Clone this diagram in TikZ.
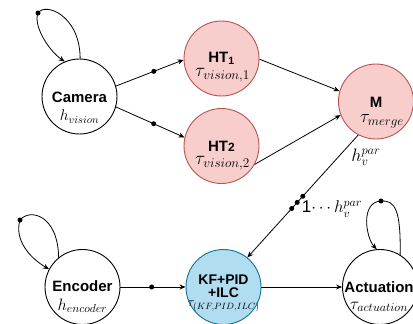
\RequirePackage{fix-cm}
\documentclass[tikz,border=0pt]{standalone}
\usepackage{fontspec}
\setmainfont{Liberation Sans}
\usetikzlibrary{arrows.meta,calc}
\definecolor{pinkf}{HTML}{F8CECC}
\definecolor{pinkd}{HTML}{B85450}
\definecolor{bluef}{HTML}{B1DDF0}
\definecolor{blued}{HTML}{10739E}
\newcommand{\fsz}[1]{\fontsize{#1}{#1}\selectfont}
\begin{document}
\begin{tikzpicture}[x=1pt,y=-1pt,
  st/.style={circle, draw=black, line width=0.9pt, minimum size=75pt, inner sep=0pt},
  pinkst/.style={st, draw=pinkd, fill=pinkf},
  bluest/.style={st, draw=blued, fill=bluef},
  ttl/.style={font=\fsz{15}\bfseries, inner sep=0pt},
  sub/.style={font=\fsz{15}, inner sep=0pt},
  lbl/.style={font=\fsz{17}, inner sep=0pt},
  dot/.style={circle, fill=black, inner sep=0pt, minimum size=5pt},
  arr/.style={-{Stealth[length=6pt,width=5pt]}, line width=0.8pt},
]
\useasboundingbox (0,0) rectangle (413,324);

\node[st] (cam) at (79.5,96.5) {};
\node[pinkst] (ht1) at (221.5,58.5) {};
\node[pinkst] (ht2) at (221.5,146) {};
\node[pinkst] (m) at (376,101.5) {};
\node[st] (enc) at (82.5,287) {};
\node[bluest] (kf) at (223.5,287) {};
\node[st] (act) at (380,287) {};

\node[ttl] at ($(cam)+(0,1)$) {Camera};
\node[sub, font=\fsz{15.5}] at ($(cam)+(0,20)$) {$h_{vision}$};
\node[ttl] at ($(ht1)+(0,0)$) {HT\textsubscript{1}};
\node[sub, font=\fsz{19}] at ($(ht1)+(1,17)$) {$\tau_{vision,1}$};
\node[ttl] at ($(ht2)+(0,0)$) {HT{\fsz{12}2}};
\node[sub, font=\fsz{19}] at ($(ht2)+(1,17)$) {$\tau_{vision,2}$};
\node[ttl] at ($(m)+(0,1)$) {M};
\node[sub, font=\fsz{18.5}] at ($(m)+(6,20)$) {$\tau_{merge}$};
\node[ttl] at ($(enc)+(0,-1)$) {Encoder};
\node[sub, font=\fsz{16.5}] at ($(enc)+(0,19)$) {$h_{encoder}$};
\node[ttl, font=\fsz{14}\bfseries] at ($(kf)+(0,-7)$) {KF+PID};
\node[ttl, font=\fsz{14}\bfseries] at ($(kf)+(0,6)$) {+ILC};
\node[sub, font=\fsz{13}] at ($(kf)+(0,19.5)$) {$\tau_{(KF,PID,ILC)}$};
\node[ttl] at ($(act)+(-1,0)$) {Actuation};
\node[sub, font=\fsz{17}] at ($(act)+(-1,20)$) {$\tau_{actuation}$};

\draw[arr] (cam.16) -- node[dot,pos=0.56]{} (ht1.182);
\draw[arr] (cam.-16) -- node[dot,pos=0.55]{} (ht2.167);
\draw[arr] (ht1.-1) -- (m.164);
\draw[arr] (ht2.-29) -- (m.-159);
\draw[arr] (m.-118) -- node[dot,pos=0.5]{} node[dot,pos=0.55]{} node[dot,pos=0.6]{} (kf.51);
\node[lbl, font=\fsz{18}] (l1) at (366,157) {$h_v^{par}$};
\node[lbl] (l2) at (332,209) {1$\cdots h_v^{par}$};
\draw[arr] (enc.east) -- node[dot,pos=0.48]{} (kf.west);
\draw[arr] (kf.east) -- (act.west);

\coordinate (cl) at (38,13);
\draw[arr] (cam.89) .. controls (80,15) and (45,2) .. (cl) .. controls (33,25) and (48,50) .. (cam.113);
\node[dot] at (cl) {};
\coordinate (el) at (20,220);
\draw[arr] (enc.129) .. controls (58,215) and (30,208) .. (el) .. controls (14,240) and (30,258) .. (enc.152);
\node[dot] at (el) {};
\coordinate (al) at (381,201);
\draw[arr] (act.58) .. controls (401,210) and (395,200) .. (al) .. controls (360,202) and (366,238) .. (act.95);
\node[dot] at (al) {};
\end{tikzpicture}
\end{document}
